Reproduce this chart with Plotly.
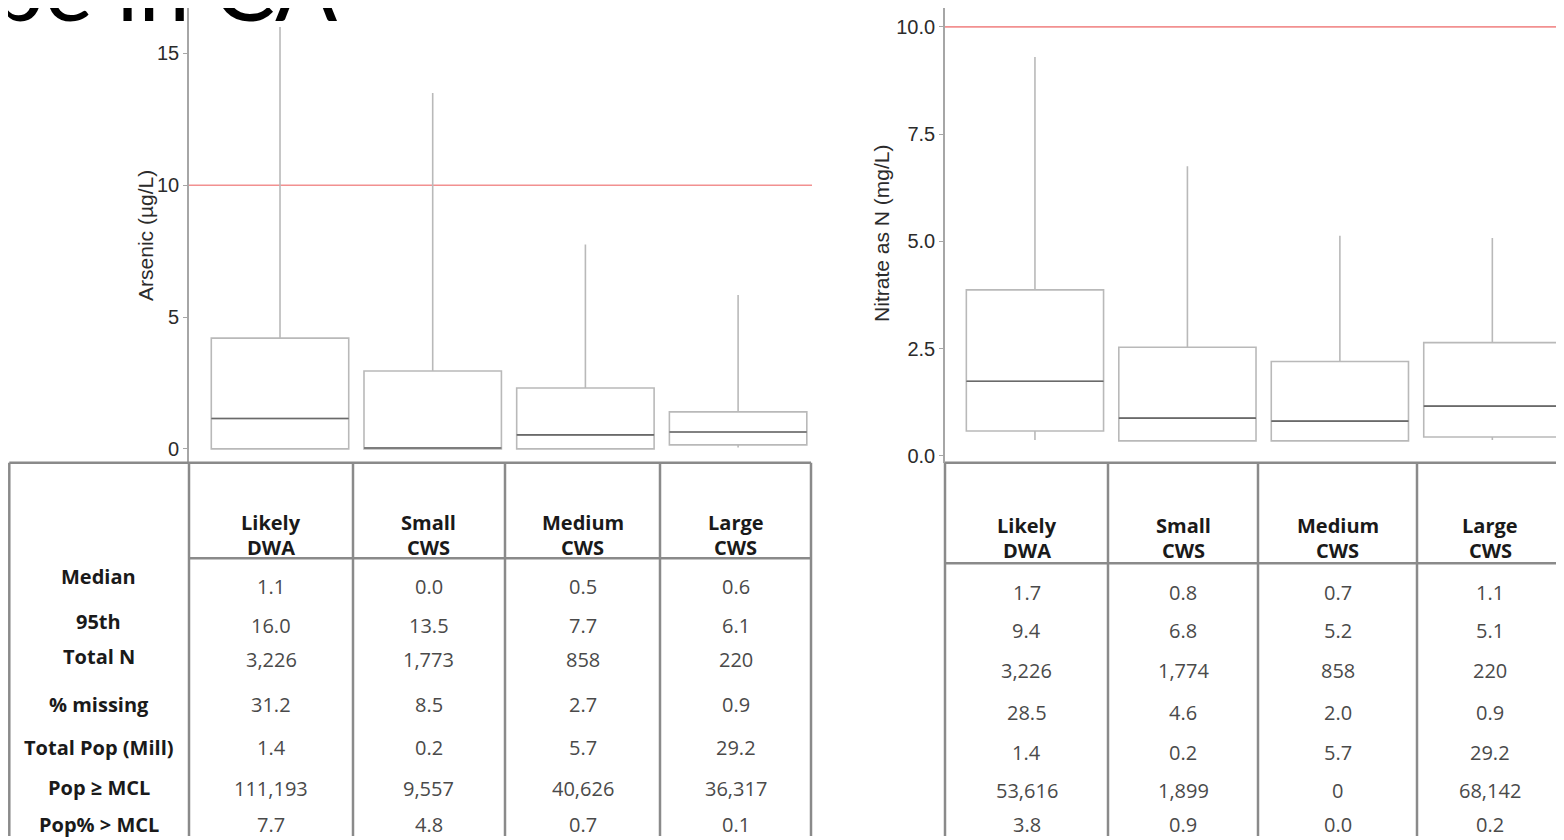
import plotly.graph_objects as go

# ---------------- data ----------------
categories = ["Likely DWA", "Small CWS", "Medium CWS", "Large CWS"]
header_top = ["Likely", "Small", "Medium", "Large"]
header_bottom = ["DWA", "CWS", "CWS", "CWS"]
row_labels = ["Median", "95th", "Total N", "% missing", "Total Pop (Mill)", "Pop \u2265 MCL", "Pop% > MCL"]

# Arsenic (ug/L) box statistics
arsenic_lower = [0.0, 0.0, 0.0, 0.05]
arsenic_q1 = [0.0, 0.0, 0.0, 0.15]
arsenic_median = [1.15, 0.03, 0.53, 0.64]
arsenic_q3 = [4.2, 2.95, 2.31, 1.4]
arsenic_upper = [16.0, 13.5, 7.75, 5.83]
arsenic_mcl = 10

# Nitrate as N (mg/L) box statistics
nitrate_lower = [0.37, 0.35, 0.35, 0.37]
nitrate_q1 = [0.58, 0.35, 0.35, 0.44]
nitrate_median = [1.74, 0.88, 0.81, 1.16]
nitrate_q3 = [3.87, 2.53, 2.2, 2.64]
nitrate_upper = [9.3, 6.75, 5.13, 5.08]
nitrate_mcl = 10

# table values (rows x columns)
arsenic_table = [
    ["1.1", "0.0", "0.5", "0.6"],
    ["16.0", "13.5", "7.7", "6.1"],
    ["3,226", "1,773", "858", "220"],
    ["31.2", "8.5", "2.7", "0.9"],
    ["1.4", "0.2", "5.7", "29.2"],
    ["111,193", "9,557", "40,626", "36,317"],
    ["7.7", "4.8", "0.7", "0.1"],
]
nitrate_table = [
    ["1.7", "0.8", "0.7", "1.1"],
    ["9.4", "6.8", "5.2", "5.1"],
    ["3,226", "1,774", "858", "220"],
    ["28.5", "4.6", "2.0", "0.9"],
    ["1.4", "0.2", "5.7", "29.2"],
    ["53,616", "1,899", "0", "68,142"],
    ["3.8", "0.9", "0.0", "0.2"],
]

# ---------------- layout helpers ----------------
# the page body has an 8px margin, so the figure is 8px smaller and all
# screen coordinates are shifted by 8px
OFF = 8
W, H = 1564 - OFF, 840 - OFF
def px(x): return (x - OFF) / W
def py(y): return 1 - (y - OFF) / H

BOX_LINE = "#b9b9b9"
MED_LINE = "#6a6a6a"
AXIS_LINE = "#a6a6a6"
GRID = "#8a8a8a"
RED = "#f29090"
TXT_FONT = "Open Sans"
positions = list(range(len(categories)))

fig = go.Figure()

def add_panel(lower, q1, med, q3, upper, xa, ya):
    fig.add_trace(go.Box(
        x=positions, lowerfence=lower, q1=q1, median=med, q3=q3, upperfence=upper,
        width=0.9, whiskerwidth=0, boxpoints=False,
        line=dict(color=BOX_LINE, width=1.6), fillcolor="white",
        xaxis=xa, yaxis=ya, showlegend=False, hoverinfo="skip",
    ))
    mx, my = [], []
    for p, m in zip(positions, med):
        mx += [p - 0.45, p + 0.45, None]
        my += [m, m, None]
    fig.add_trace(go.Scatter(
        x=mx, y=my, mode="lines", line=dict(color=MED_LINE, width=1.6),
        xaxis=xa, yaxis=ya, showlegend=False, hoverinfo="skip",
    ))

add_panel(arsenic_lower, arsenic_q1, arsenic_median, arsenic_q3, arsenic_upper, "x", "y")
add_panel(nitrate_lower, nitrate_q1, nitrate_median, nitrate_q3, nitrate_upper, "x2", "y2")

xaxis_common = dict(showgrid=False, zeroline=False, showline=False, showticklabels=False,
                    ticks="", tickvals=positions, ticktext=categories)
yaxis_common = dict(showgrid=False, zeroline=False, showline=True, linecolor=AXIS_LINE, linewidth=1.6,
                    ticks="outside", ticklen=4, tickcolor=AXIS_LINE, tickwidth=1.2,
                    tickfont=dict(family="Liberation Sans, Arial", size=20, color="#2b2b2b"))

fig.update_layout(
    width=W, height=H, margin=dict(l=0, r=0, t=0, b=0),
    paper_bgcolor="white", plot_bgcolor="white",
    xaxis=dict(domain=[px(189), px(812)], range=[-0.596, 3.484], anchor="y", **xaxis_common),
    yaxis=dict(domain=[py(465), py(8)], range=[-0.53, 16.72], anchor="x",
               tickvals=[0, 5, 10, 15], **yaxis_common),
    xaxis2=dict(domain=[px(945), 1.0], range=[-0.59, 3.47], anchor="y2", **xaxis_common),
    yaxis2=dict(domain=[py(465), py(8)], range=[-0.162, 10.44], anchor="x2",
                tickvals=[0, 2.5, 5, 7.5, 10], tickformat=".1f", **yaxis_common),
)

shapes = []
# MCL reference lines
shapes.append(dict(type="line", xref="x domain", yref="y", x0=0, x1=1, y0=arsenic_mcl, y1=arsenic_mcl,
                   line=dict(color=RED, width=1.6), layer="below"))
shapes.append(dict(type="line", xref="x2 domain", yref="y2", x0=0, x1=1, y0=nitrate_mcl, y1=nitrate_mcl,
                   line=dict(color=RED, width=1.6), layer="below"))

def hline(x0, x1, y):
    shapes.append(dict(type="line", xref="paper", yref="paper", x0=px(x0), x1=px(x1), y0=py(y), y1=py(y),
                       line=dict(color=GRID, width=2.5)))
def vline(x, y0, y1):
    shapes.append(dict(type="line", xref="paper", yref="paper", x0=px(x), x1=px(x), y0=py(y0), y1=py(y1),
                       line=dict(color=GRID, width=2.5)))

# left table grid
L_LEFT = 9.3
L_COLS = [189, 353, 505, 660, 811]
hline(L_LEFT, 811, 465)
vline(L_LEFT, 465, 840)
for c in L_COLS:
    vline(c, 465, 840)
hline(189, 811, 561)

# right table grid
R_COLS = [945, 1108, 1258, 1417, 1563]
hline(945, 1564, 465)
for c in R_COLS[:-1]:
    vline(c, 465, 840)
hline(945, 1564, 566)

annotations = []
def text(x, y, s, size=20, bold=False, color="#4a4a4a", family=TXT_FONT, **kw):
    annotations.append(dict(xref="paper", yref="paper", x=px(x), y=py(y), text=("<b>%s</b>" % s) if bold else s,
                            showarrow=False, xanchor=kw.get("xanchor", "center"), yanchor=kw.get("yanchor", "middle"),
                            font=dict(family=family, size=size, color=color),
                            textangle=kw.get("textangle", 0)))

# left table text
L_HEAD_Y = (525, 550)
L_VAL_Y = [589, 628, 663, 708, 751, 792, 828]
L_LAB_Y = [579, 624, 660, 708, 751, 791, 828]
for j in range(len(categories)):
    cx = (L_COLS[j] + L_COLS[j + 1]) / 2
    text(cx, L_HEAD_Y[0], header_top[j], bold=True, color="#1a1a1a")
    text(cx, L_HEAD_Y[1], header_bottom[j], bold=True, color="#1a1a1a")
    for i, row in enumerate(arsenic_table):
        text(cx, L_VAL_Y[i], row[j])
for i, lab in enumerate(row_labels):
    text((8 + 189) / 2, L_LAB_Y[i], lab, bold=True, color="#1a1a1a")

# right table text
R_HEAD_Y = (528, 553)
R_VAL_Y = [595, 634, 674, 716, 756, 794, 828]
for j in range(len(categories)):
    cx = (R_COLS[j] + R_COLS[j + 1]) / 2
    text(cx, R_HEAD_Y[0], header_top[j], bold=True, color="#1a1a1a")
    text(cx, R_HEAD_Y[1], header_bottom[j], bold=True, color="#1a1a1a")
    for i, row in enumerate(nitrate_table):
        text(cx, R_VAL_Y[i], row[j])

# axis titles
text(146, 237, "Arsenic (\u00b5g/L)", size=21, color="#2b2b2b", family="Liberation Sans, Arial", textangle=-90)
text(882, 235, "Nitrate as N (mg/L)", size=21, color="#2b2b2b", family="Liberation Sans, Arial", textangle=-90)

# slide title (cut off at the top-left of the screenshot)
text(340, 43, "Type in CA", size=92, color="#000000", family="Lato", xanchor="right", yanchor="bottom")

fig.update_layout(shapes=shapes, annotations=annotations)
fig.write_html("out.html")
